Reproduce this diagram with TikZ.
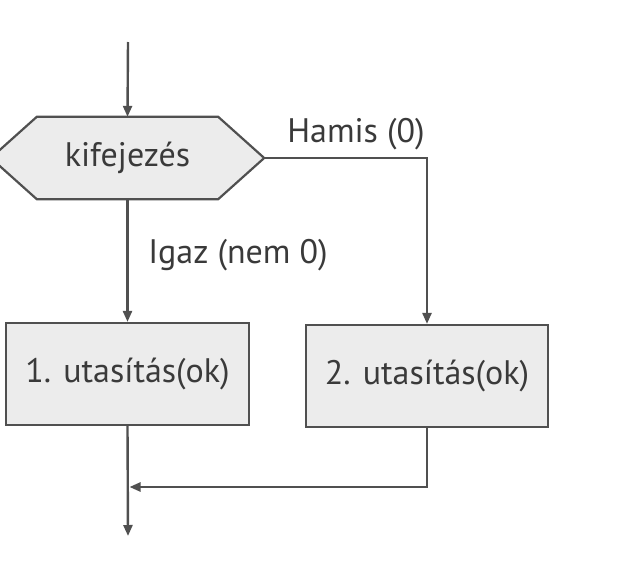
\documentclass[tikz,border=0pt]{standalone}
\usepackage{fontspec}
\setmainfont{PT Sans}
\usetikzlibrary{arrows.meta,calc,backgrounds}
\definecolor{linec}{HTML}{505050}
\definecolor{boxf}{HTML}{ECECEC}
\definecolor{txtc}{HTML}{3A3A3A}
\tikzset{
  arr/.style={draw=linec, line width=2.4pt, -{Triangle[length=11pt,width=9pt]}},
  stmtbox/.style={draw=linec, line width=2.2pt, fill=boxf, minimum width=243pt, minimum height=102pt, inner sep=0pt, text=txtc, font=\fontsize{34}{40}\selectfont},
  lbl/.style={text=txtc, font=\fontsize{34}{40}\selectfont, inner sep=0pt},
}
\begin{document}
\begin{tikzpicture}[x=1pt,y=-1pt]
\useasboundingbox (0,0) rectangle (624,568);
\coordinate (start) at (128,42);
\node[lbl, minimum width=181pt, minimum height=82pt] (hex) at (127.5,158) {kifejezés};
\coordinate (hexL) at ($(hex.west)+(-46,0)$);
\coordinate (hexR) at ($(hex.east)+(46,0)$);
\begin{pgfonlayer}{background}
\fill[white] (0,0) rectangle (624,568);
\filldraw[draw=linec, line width=2.2pt, fill=boxf, line join=miter]
  (hex.north west) -- (hex.north east) -- (hexR) -- (hex.south east) -- (hex.south west) -- (hexL) -- cycle;
\end{pgfonlayer}
\node[stmtbox] (b1) at (127.5,374) {1. utasítás(ok)};
\node[stmtbox, minimum width=242pt] (b2) at (427,376) {2. utasítás(ok)};
\coordinate (join) at (129.5,487);
\coordinate (stop) at (128,536);
\draw[arr] (start) -- (hex.north);
\draw[arr] (hexR) -| (b2.north);
\draw[arr] (hex.south) -- (b1.north);
\draw[arr] (b1.south) -- (stop);
\draw[arr] (b2.south) |- (join);
\node[lbl, anchor=base] (hamis) at (356,142) {Hamis (0)};
\node[lbl, anchor=base] (igaz) at (238,263) {Igaz (nem 0)};
\end{tikzpicture}
\end{document}
